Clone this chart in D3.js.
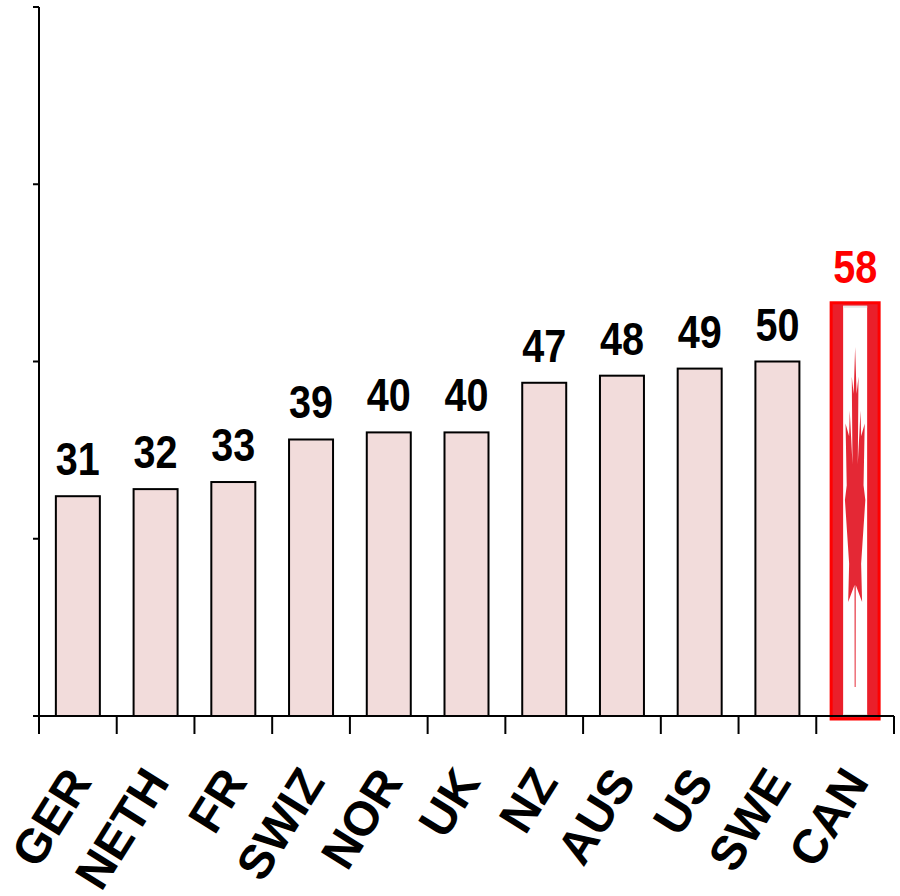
<!DOCTYPE html>
<html>
<head>
<meta charset="utf-8">
<script src="https://cdn.jsdelivr.net/npm/d3@7"></script>
<style>
  body { margin: 0; background: #fff; }
  svg { display: block; }
  text { font-family: "Liberation Sans", Arial, sans-serif; font-weight: bold; }
</style>
</head>
<body>
<svg class="chart" width="900" height="896"></svg>
<script>

const countries = ['GER', 'NETH', 'FR', 'SWIZ', 'NOR', 'UK', 'NZ', 'AUS', 'US', 'SWE', 'CAN'];
const values = [31, 32, 33, 39, 40, 40, 47, 48, 49, 50, 58];
const yTicks = [0, 25, 50, 75, 100];
const highlight = 'CAN';

// maple leaf outline, unit box (squashed into the flag bar later)
const leaf = [
    [0, -1], [0.12, -0.78], [0.28, -0.86], [0.22, -0.45], [0.45, -0.7], [0.5, -0.58],
    [0.8, -0.64], [0.7, -0.35], [0.85, -0.28], [0.5, 0.02], [0.58, 0.2], [0.05, 0.12],
    [0.04, 0.6], [-0.04, 0.6], [-0.05, 0.12], [-0.58, 0.2], [-0.5, 0.02], [-0.85, -0.28],
    [-0.7, -0.35], [-0.8, -0.64], [-0.5, -0.58], [-0.45, -0.7], [-0.22, -0.45],
    [-0.28, -0.86], [-0.12, -0.78]
];

const svg = d3.select('.chart');

const x0 = 39, x1 = 894, yTop = 7, yBase = 716;

// category slots (tick marks sit on their edges)
const band = d3.scaleBand().domain(countries).range([x0, x1]).padding(0);

const x = d3.scaleBand()
    .domain(countries)
    .range([x0, x1])
    .paddingInner(0.434)
    .paddingOuter(0.217);

const y = d3.scaleLinear()
    .domain([0, 100])
    .range([yBase, yTop]);

const mid = c => x(c) + x.bandwidth() / 2;

// bars
const plain = countries.map((c, i) => ({ c, v: values[i] })).filter(d => d.c != highlight);

svg.append('g')
    .selectAll('rect')
    .data(plain)
    .join('rect')
    .attr('x', d => x(d.c))
    .attr('y', d => y(d.v))
    .attr('width', x.bandwidth())
    .attr('height', d => y(0) - y(d.v))
    .attr('fill', '#f2dcdb')
    .attr('stroke', '#000')
    .attr('stroke-width', 2);

// flag bar for CAN
const cv = values[countries.indexOf(highlight)];
const cx = mid(highlight);
const fTop = y(cv) - 2, fBot = yBase + 3, fw = 48;

const flag = svg.append('g');

flag.append('rect')
    .attr('x', cx - fw / 2).attr('y', fTop)
    .attr('width', fw).attr('height', fBot - fTop)
    .attr('fill', '#ea1f2a')
    .attr('stroke', '#ff0000')
    .attr('stroke-width', 3);

flag.append('rect')
    .attr('x', cx - 12).attr('y', fTop + 3)
    .attr('width', 24).attr('height', fBot - fTop - 6)
    .attr('fill', '#fff');

[fTop + 3, fBot - 5].forEach(yy => {
    flag.append('rect')
        .attr('x', cx - 12).attr('y', yy)
        .attr('width', 24).attr('height', 2)
        .attr('fill', '#e6e6e6');
});

const leafX = d3.scaleLinear().domain([-1, 1]).range([cx - 12, cx + 12]);
const leafY = d3.scaleLinear().domain([-1, 0.6]).range([347, 687]);

flag.append('path')
    .attr('d', d3.line().x(p => leafX(p[0])).y(p => leafY(p[1]))(leaf) + 'Z')
    .attr('fill', '#e31c2a')
    .attr('opacity', 0.95);

// value labels (narrow, tall figures)
svg.append('g')
    .selectAll('text')
    .data(countries.map((c, i) => ({ c, v: values[i] })))
    .join('text')
    .attr('transform', d => `translate(${mid(d.c)},${d.c == highlight ? fTop - 20 : y(d.v) - 21}) scale(0.86,1)`)
    .attr('text-anchor', 'middle')
    .attr('font-size', 46)
    .attr('fill', d => d.c == highlight ? '#ff0000' : '#000')
    .text(d => d.v);

// y axis
const axisY = svg.append('g');
axisY.append('line')
    .attr('x1', x0).attr('x2', x0)
    .attr('y1', yTop).attr('y2', yBase)
    .attr('stroke', '#000').attr('stroke-width', 2);
axisY.selectAll('.tick')
    .data(yTicks)
    .join('line')
    .attr('x1', x0 - 6).attr('x2', x0)
    .attr('y1', d => y(d)).attr('y2', d => y(d))
    .attr('stroke', '#000').attr('stroke-width', 2);

// x axis
const axisX = svg.append('g');
axisX.append('line')
    .attr('x1', x0 - 6).attr('x2', x1)
    .attr('y1', yBase).attr('y2', yBase)
    .attr('stroke', '#000').attr('stroke-width', 2);
axisX.selectAll('.tick')
    .data(countries.map(c => band(c)).concat([x1]))
    .join('line')
    .attr('x1', d => d).attr('x2', d => d)
    .attr('y1', yBase).attr('y2', yBase + 18)
    .attr('stroke', '#000').attr('stroke-width', 2);

// category labels
svg.append('g')
    .selectAll('text')
    .data(countries)
    .join('text')
    .attr('transform', c => `translate(${mid(c) + 15},782) rotate(-58)`)
    .attr('text-anchor', 'end')
    .attr('font-size', 48)
    .attr('fill', '#000')
    .text(c => c);

</script>
</body>
</html>
